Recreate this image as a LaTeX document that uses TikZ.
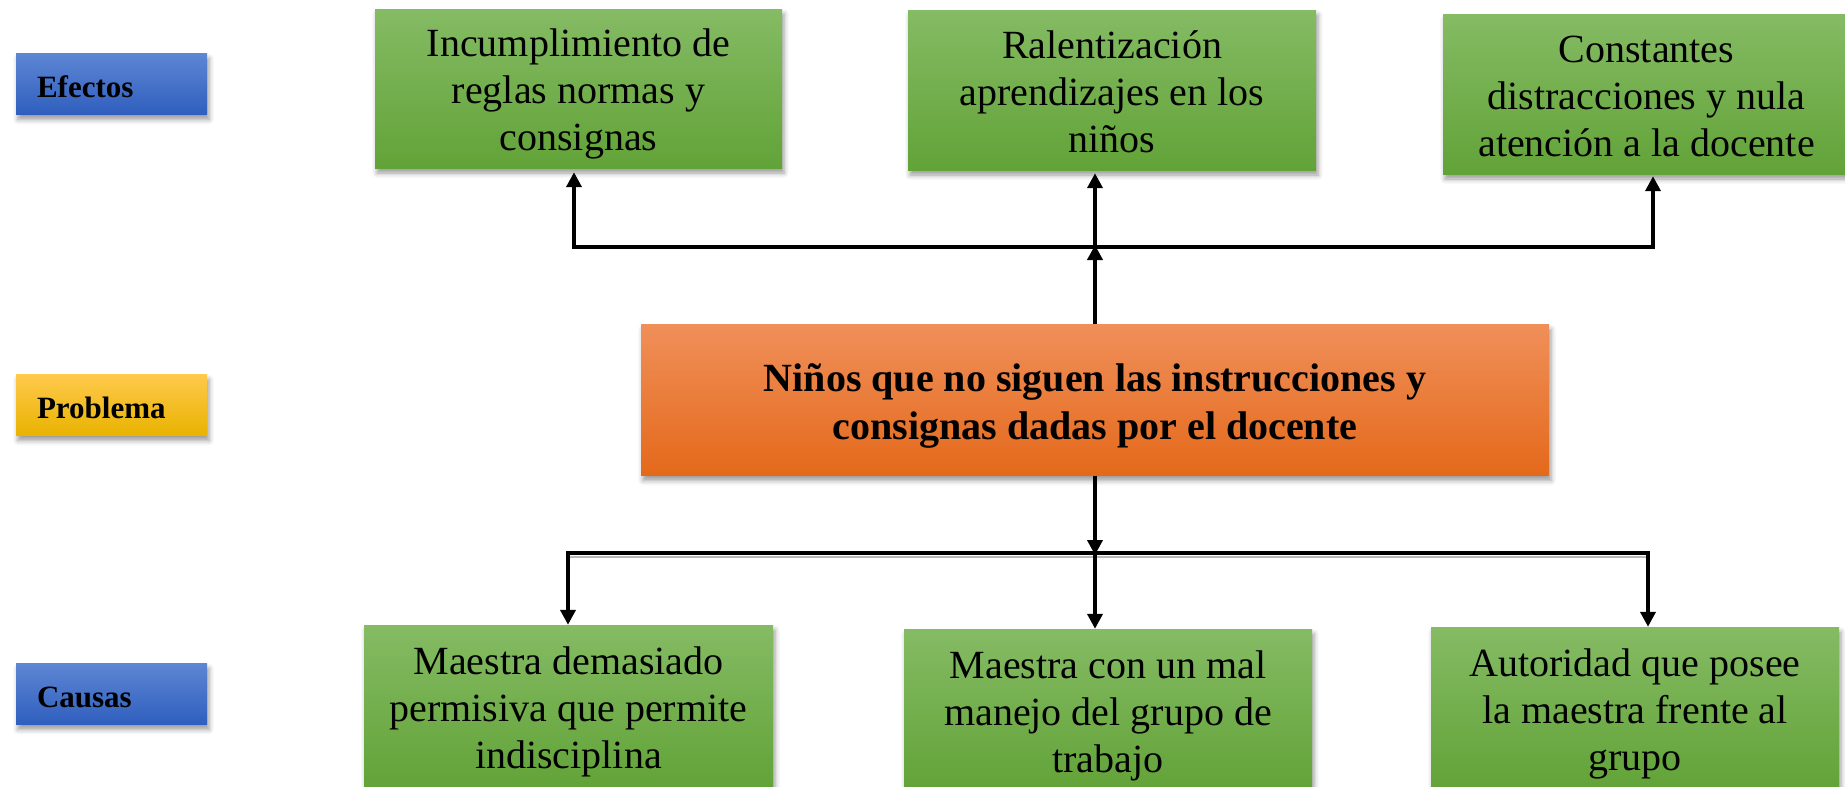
\documentclass[tikz,border=0pt]{standalone}
\usepackage{fontspec}
\setmainfont{Liberation Serif}
\usetikzlibrary{arrows.meta,shadows.blur}
\definecolor{gTop}{HTML}{85BB64}
\definecolor{gBot}{HTML}{62A338}
\definecolor{oTop}{HTML}{F08F5A}
\definecolor{oBot}{HTML}{E4691A}
\definecolor{bTop}{HTML}{5D86D3}
\definecolor{bBot}{HTML}{2F5EBE}
\definecolor{yTop}{HTML}{FFC94C}
\definecolor{yBot}{HTML}{E8B300}
\newcommand{\ctxt}[1]{\raisebox{-6pt}[\height][\depth]{\begin{tabular}{@{}c@{}}#1\end{tabular}}}
\newcommand{\ltxt}[1]{\raisebox{-3pt}[\height][\depth]{#1}}
\tikzset{wtip/.tip={Triangle[length=15pt,width=15pt]}}
\begin{document}
\begin{tikzpicture}[x=1pt,y=-1pt,
  box/.style={rectangle, inner sep=0pt, align=center,
    blur shadow={shadow xshift=2pt,shadow yshift=-5pt,shadow blur radius=5pt,shadow opacity=40}},
  greenbox/.style={box, top color=gTop, bottom color=gBot, font=\fontsize{40}{47}\selectfont},
  probbox/.style={box, top color=oTop, bottom color=oBot, font=\fontsize{40}{48}\selectfont\bfseries},
  labelbox/.style={box, inner xsep=21pt, text width=149pt, align=left,
    minimum height=61pt, font=\fontsize{31}{36}\selectfont\bfseries},
  bluebox/.style={labelbox, top color=bTop, bottom color=bBot},
  yellowbox/.style={labelbox, top color=yTop, bottom color=yBot},
  arrT/.style={-{wtip}},
  arr2/.style={{wtip}-{wtip}}
]
\useasboundingbox (0,0) rectangle (1845,787);
\clip (0,0) rectangle (1845,787);

% side labels
\node[bluebox] (lef) at (111.5,84) {\ltxt{Efectos}};
\node[yellowbox] (lpr) at (111.5,405) {\ltxt{Problema}};
\node[bluebox] (lca) at (111.5,694) {\ltxt{Causas}};

% effects
\node[greenbox, minimum width=407pt, minimum height=159pt] (e1) at (578.5,88.5)
  {\ctxt{Incumplimiento de\\reglas normas y\\consignas}};
\node[greenbox, minimum width=408pt, minimum height=160pt] (e2) at (1112,90)
  {\ctxt{Ralentización\\aprendizajes en los\\niños}};
\node[greenbox, minimum width=407pt, minimum height=160pt] (e3) at (1646.5,94)
  {\ctxt{Constantes\\distracciones y nula\\atención a la docente}};

% problem
\node[probbox, minimum width=908pt, minimum height=151pt] (p) at (1095,400)
  {\ctxt{Niños que no siguen las instrucciones y\\consignas dadas por el docente}};

% causes
\node[greenbox, minimum width=409pt, minimum height=162pt] (c1) at (568.5,706)
  {\ctxt{Maestra demasiado\\permisiva que permite\\indisciplina}};
\node[greenbox, minimum width=408pt, minimum height=162pt] (c2) at (1108,710)
  {\ctxt{Maestra con un mal\\manejo del grupo de\\trabajo}};
\node[greenbox, minimum width=408pt, minimum height=162pt] (c3) at (1635,708)
  {\ctxt{Autoridad que posee\\la maestra frente al\\grupo}};

% top connectors
\coordinate (tl) at (574,247);
\coordinate (tj) at (1095,247);
\coordinate (tr) at (1653,247);
\draw[line width=4.5pt, arrT] (p.north) -- ([yshift=2pt]tj);
\draw[line width=4.5pt, arr2, shorten <=4pt, shorten >=2pt] (tl |- e1.south) -- (tl) -- (tr) -- (tr |- e3.south);
\draw[line width=4.5pt, arrT, shorten >=3pt] (tj) -- (tj |- e2.south);

% bottom connectors
\coordinate (bl) at (568,553);
\coordinate (bj) at (1095,553);
\coordinate (br) at (1648,553);
\draw[gray!55, line width=2pt] ([yshift=-3.5pt]bl) -- ([yshift=-3.5pt]br);
\draw[line width=4pt, arrT] (p.south) -- ([yshift=-2pt]bj);
\draw[line width=4pt, arr2] (bl |- c1.north) -- (bl) -- (br) -- (br |- c3.north);
\draw[line width=4pt, arrT] (bj) -- (bj |- c2.north);
\end{tikzpicture}
\end{document}
